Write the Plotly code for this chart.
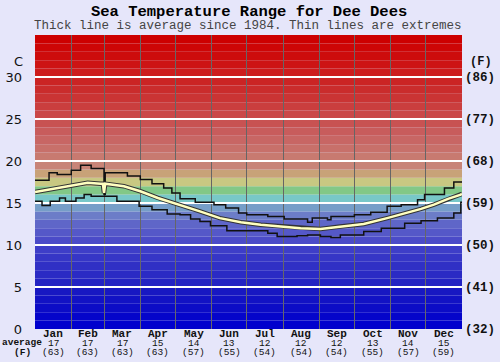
import plotly.graph_objects as go

# ---------------- data ----------------
months = ["Jan", "Feb", "Mar", "Apr", "May", "Jun", "Jul", "Aug", "Sep", "Oct", "Nov", "Dec"]
month_days = [31, 28, 31, 30, 31, 30, 31, 31, 30, 31, 30, 31]
avg_c = [17, 17, 17, 15, 14, 13, 12, 12, 12, 13, 14, 15]
avg_f = [63, 63, 63, 63, 57, 55, 54, 54, 54, 55, 57, 59]

left_ticks = [0, 5, 10, 15, 20, 25, 30]
right_ticktext = ["(32)", "(41)", "(50)", "(59)", "(68)", "(77)", "(86)"]

upper_day = [0, 12, 19, 31, 39, 48, 59, 60, 79, 90, 100, 110, 117, 124, 137, 153, 163, 174, 181,
             199, 213, 233, 237, 250, 253, 273, 287, 301, 313, 327, 333, 350, 358, 365]
upper_val = [17.7, 18.6, 18.4, 18.9, 19.5, 19.1, 16.0, 18.6, 18.2, 17.8, 17.3, 16.8, 16.2, 15.5,
             15.1, 14.8, 14.4, 13.8, 13.6, 13.4, 13.1, 12.7, 13.2, 13.0, 13.4, 13.6, 13.9, 14.6,
             14.8, 15.4, 16.0, 16.8, 17.5, 17.5]

lower_day = [0, 6, 13, 21, 26, 35, 42, 48, 70, 89, 100, 113, 124, 133, 141, 150, 164, 199, 207,
             224, 233, 244, 253, 261, 281, 296, 316, 330, 344, 358, 364, 365]
lower_val = [15.2, 14.7, 15.2, 15.6, 15.2, 15.6, 16.0, 15.8, 15.2, 14.6, 14.2, 13.7, 13.6, 13.1,
             12.8, 12.3, 11.7, 11.4, 11.0, 11.1, 11.2, 11.0, 10.9, 11.2, 11.6, 12.0, 12.6, 12.9,
             13.2, 13.8, 15.1, 15.1]

avg_day = [0, 16, 31, 45, 56, 58, 59, 60, 76, 90, 105, 119, 124, 141, 158, 176, 193, 210, 227,
           244, 261, 281, 301, 318, 330, 341, 353, 364, 365]
avg_val = [16.3, 16.7, 17.1, 17.4, 17.3, 17.3, 16.2, 17.3, 17.0, 16.4, 15.6, 15.0, 14.8, 14.0,
           13.2, 12.7, 12.4, 12.2, 12.0, 11.9, 12.2, 12.5, 13.2, 13.8, 14.3, 14.8, 15.5, 16.0, 16.1]

# background band colours, one per degree C from 0 upward (style)
band_colors = [
    (0, 0, 205), (5, 5, 202), (12, 12, 198), (18, 18, 196), (24, 24, 194),
    (35, 35, 195), (42, 42, 196), (48, 48, 197), (54, 54, 198), (62, 62, 200),
    (75, 75, 200), (85, 88, 200), (95, 102, 200), (108, 125, 200), (118, 158, 200),
    (120, 200, 200), (130, 200, 135), (200, 200, 130), (200, 162, 120), (200, 132, 120),
    (200, 122, 112), (200, 112, 106), (200, 102, 100), (200, 92, 92), (200, 82, 82),
    (202, 72, 72), (202, 62, 62), (202, 52, 52), (202, 44, 44), (203, 36, 36),
    (205, 28, 28), (205, 20, 20), (205, 12, 12), (205, 6, 6), (205, 0, 0),
]

# ---------------- geometry helpers ----------------
W, H = 500, 362
ML, MR, MT, MB = 35, 38, 35, 33
PH = H - MT - MB


def py(p):
    return (H - MB - p) / PH


def pxp(p):
    return (p - ML) / (W - ML - MR)


bounds = []
acc = 0
for d in month_days[:-1]:
    acc += d
    bounds.append(acc)
mids = []
acc = 0
for d in month_days:
    mids.append(acc + d / 2)
    acc += d

mono = "Liberation Mono, Courier New, monospace"

fig = go.Figure()

fig.add_trace(go.Scatter(x=lower_day, y=lower_val, mode="lines", line=dict(color="#111", width=1.5, shape="hv"),
                         hoverinfo="skip", showlegend=False))
fig.add_trace(go.Scatter(x=upper_day, y=upper_val, mode="lines", line=dict(color="#111", width=1.5, shape="hv"),
                         hoverinfo="skip", showlegend=False))
fig.add_trace(go.Scatter(x=avg_day, y=avg_val, mode="lines", line=dict(color="#333", width=4.5),
                         hoverinfo="skip", showlegend=False))
fig.add_trace(go.Scatter(x=avg_day, y=avg_val, mode="lines", line=dict(color="#FFFFC0", width=2.5),
                         hoverinfo="skip", showlegend=False))
# carrier for the right-hand Fahrenheit axis
fig.add_trace(go.Scatter(x=[0], y=[0], yaxis="y2", mode="markers", marker=dict(opacity=0),
                         hoverinfo="skip", showlegend=False))

shapes = []
for i, c in enumerate(band_colors):
    shapes.append(dict(type="rect", xref="paper", yref="y", x0=0, x1=1, y0=i, y1=i + 1,
                       fillcolor="rgb(%d,%d,%d)" % c, line=dict(width=0), layer="below"))

ann = []
ann.append(dict(text="<b>Sea Temperature Range for Dee Dees</b>", x=0.5, xref="paper", y=py(12), yref="paper",
                showarrow=False, font=dict(family=mono, size=15.5, color="#000"), xanchor="center", yanchor="middle"))
ann.append(dict(text="Thick line is average since 1984. Thin lines are extremes", x=pxp(248), xref="paper",
                y=py(25.5), yref="paper", showarrow=False, font=dict(family=mono, size=12.5, color="#444"),
                xanchor="center", yanchor="middle"))
ann.append(dict(text="C", x=pxp(18), xref="paper", y=py(61), yref="paper", showarrow=False,
                font=dict(family="DejaVu Sans", size=13, color="#111"), xanchor="center", yanchor="middle"))
ann.append(dict(text="<b>(F)</b>", x=pxp(481), xref="paper", y=py(62), yref="paper", showarrow=False,
                font=dict(family=mono, size=12, color="#111"), xanchor="center", yanchor="middle"))
ann.append(dict(text="<b>average</b>", x=pxp(22), xref="paper", y=py(342.5), yref="paper", showarrow=False,
                font=dict(family=mono, size=9.5, color="#111"), xanchor="center", yanchor="middle", borderpad=0))
ann.append(dict(text="<b>(F)</b>", x=pxp(22), xref="paper", y=py(352.5), yref="paper", showarrow=False,
                font=dict(family=mono, size=9.5, color="#111"), xanchor="center", yanchor="middle", borderpad=0))
for m, xm, c, f in zip(months, mids, avg_c, avg_f):
    ann.append(dict(text="<b>%s</b>" % m, x=xm, xref="x", y=py(334), yref="paper", showarrow=False,
                    font=dict(family=mono, size=11, color="#111"), xanchor="center", yanchor="middle", borderpad=0))
    ann.append(dict(text=str(c), x=xm, xref="x", y=py(343), yref="paper", showarrow=False,
                    font=dict(family=mono, size=9.5, color="#111"), xanchor="center", yanchor="middle", borderpad=0))
    ann.append(dict(text="(%d)" % f, x=xm, xref="x", y=py(352.5), yref="paper", showarrow=False,
                    font=dict(family=mono, size=9.5, color="#111"), xanchor="center", yanchor="middle", borderpad=0))

fig.update_layout(
    width=W, height=H,
    margin=dict(l=ML, r=MR, t=MT, b=MB, pad=0, autoexpand=False),
    paper_bgcolor="#E6E6FA",
    plot_bgcolor="#E6E6FA",
    shapes=shapes,
    annotations=ann,
    xaxis=dict(range=[0, 365], tickmode="array", tickvals=bounds, showticklabels=False, automargin=False,
               showgrid=True, gridcolor="#666666", gridwidth=1, zeroline=False, ticks="", fixedrange=True,
               showline=False),
    yaxis=dict(range=[0, 35], tickmode="array", tickvals=left_ticks, showgrid=True, gridcolor="white",
               gridwidth=2, zeroline=False, ticks="", ticklabelstandoff=12, automargin=False,
               tickfont=dict(family="DejaVu Sans", size=13, color="#111"), showline=False),
    yaxis2=dict(range=[0, 35], overlaying="y", side="right", tickmode="array", tickvals=left_ticks,
                ticktext=right_ticktext, showgrid=False, zeroline=False, ticks="", ticklabelstandoff=2,
                automargin=False,
                tickfont=dict(family=mono, size=12.5, color="#111", weight="bold"), showline=False),
    showlegend=False,
)

fig.write_html("out.html", config={"displayModeBar": False},
               post_script="document.body.style.margin='0px';document.body.style.padding='0px';")
